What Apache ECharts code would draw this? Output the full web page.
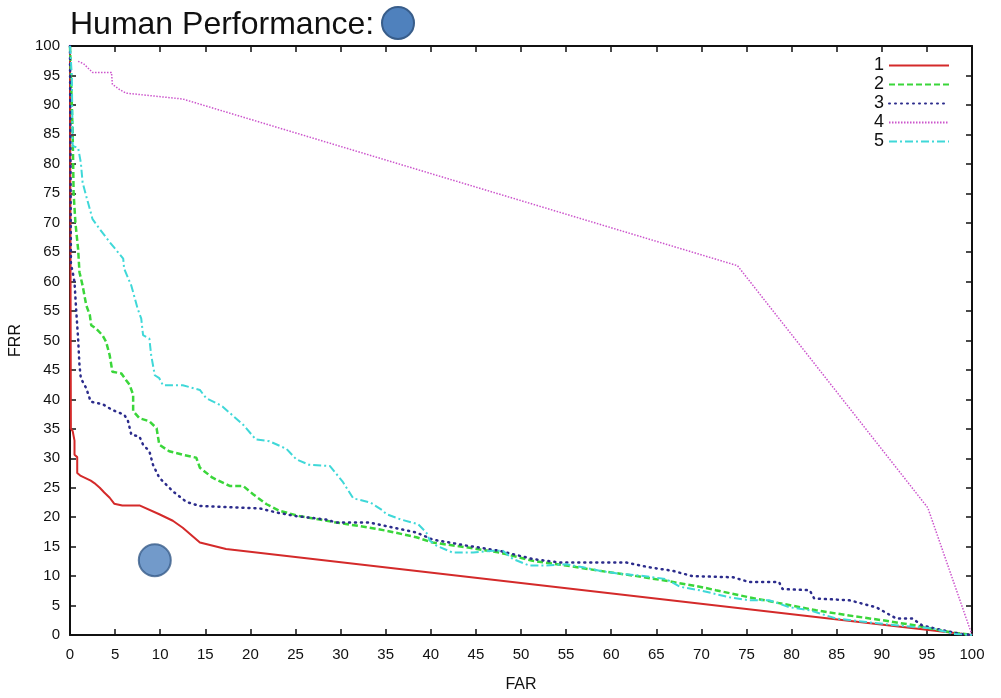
<!DOCTYPE html>
<html>
<head>
<meta charset="utf-8">
<script src="https://cdn.jsdelivr.net/npm/echarts@6/dist/echarts.min.js"></script>
<style>
  html, body { margin: 0; padding: 0; background: #fff; }
  #chart { width: 1001px; height: 698px; }
</style>
</head>
<body>
<div id="chart"></div>
<script>
// curves, [FAR, FRR]
const curve1 = [[0,100],[0.1,35],[0.3,34.6],[0.5,33],[0.5,30.6],[0.8,30.2],[0.8,27.5],[1.2,27.0],[2.3,26.2],[2.7,25.8],[3.3,25.0],[3.8,24.2],[4.4,23.3],[4.9,22.3],[5.8,22.0],[7.7,22.0],[9.9,20.5],[11.4,19.4],[12.5,18.2],[14.4,15.7],[17.3,14.6],[100,0]]
const curve2 = [[0,100],[0.3,85],[0.4,75],[0.6,70],[0.9,65.5],[1.05,61.6],[1.4,59.3],[1.8,56.0],[2.2,54.3],[2.35,52.6],[2.9,52.0],[3.6,50.9],[4.0,49.8],[4.4,47.5],[4.7,44.7],[5.7,44.4],[6.2,43.3],[6.6,42.5],[7.0,40.8],[7.0,38.0],[7.7,36.8],[8.8,36.3],[9.6,35.1],[9.9,32.3],[11.0,31.2],[12.5,30.6],[14.0,30.1],[14.4,28.4],[15.8,26.7],[17.7,25.3],[19.2,25.3],[20.3,23.9],[21.8,22.2],[23.2,21.1],[25.4,20.2],[27.7,19.6],[29.5,19.1],[32.1,18.5],[35.1,17.7],[38.4,16.6],[40.2,15.7],[43.9,14.9],[47.6,14.0],[51.3,12.6],[55.0,11.8],[58.7,10.9],[62.4,10.1],[66.1,9.2],[69.8,8.2],[71.6,7.6],[75.3,6.4],[79.0,5.3],[82.7,4.2],[86.4,3.3],[90.1,2.5],[93.8,1.6],[97.5,0.5],[100,0]]
const curve3 = [[0,100],[0.1,63],[0.3,61.6],[0.5,59.9],[0.7,54.8],[0.9,50.3],[1.05,45.8],[1.2,43.6],[1.8,41.9],[2.3,39.6],[3.6,39.2],[4.7,38.2],[6.0,37.4],[6.4,36.5],[6.8,34.0],[7.7,33.7],[8.1,32.3],[8.8,31.2],[9.2,28.9],[9.9,26.7],[11.4,24.4],[12.9,22.6],[14.4,21.9],[21.0,21.5],[22.9,20.8],[25.0,20.2],[28.4,19.6],[29.5,19.1],[33.2,19.1],[36.9,17.9],[38.4,17.4],[40.2,16.2],[43.9,15.2],[47.6,14.3],[51.3,12.9],[54.3,12.3],[61.7,12.3],[64.2,11.5],[66.8,10.9],[69.0,10.0],[73.5,9.8],[75.3,9.0],[78.6,9.0],[79.0,7.8],[82.0,7.6],[82.5,6.2],[86.4,5.9],[89.4,4.7],[91.6,2.8],[93.4,2.8],[94.5,1.6],[96.8,0.8],[98.6,0.2],[100,0]]
const curve4 = [[0.9,97.4],[1.5,97.0],[2.5,95.5],[4.6,95.5],[4.7,93.5],[5.5,92.6],[6.2,92.0],[12.5,91.0],[74.0,62.7],[95.1,21.6],[100,0]]
const curve5 = [[0,100],[0.2,95],[0.3,83],[0.9,82.7],[1.2,80.2],[1.4,76.8],[1.8,74.5],[2.2,72.3],[2.5,70.6],[3.3,68.9],[4.4,66.7],[5.9,63.9],[6.0,62.2],[6.8,59.3],[7.5,55.4],[7.9,53.7],[8.1,50.9],[8.8,50.3],[9.0,47.5],[9.4,44.1],[9.9,43.6],[10.3,42.4],[12.5,42.4],[14.4,41.6],[15.1,40.2],[16.2,39.4],[16.9,38.8],[19.2,35.7],[20.6,33.2],[22.1,32.9],[24.0,31.6],[25.1,29.8],[26.5,28.9],[28.8,28.7],[30.2,26.1],[31.4,23.2],[33.3,22.5],[34.6,21.2],[35.1,20.5],[36.7,19.6],[38.6,18.8],[39.5,17.4],[39.9,16.0],[40.6,15.2],[42.4,14.0],[44.7,14.0],[46.9,14.3],[48.0,14.3],[49.1,12.9],[50.9,11.8],[52.8,11.8],[55.0,12.0],[56.9,11.5],[58.7,10.9],[60.9,10.4],[63.1,10.1],[66.1,9.5],[67.6,8.2],[69.8,7.6],[73.1,6.4],[75.3,5.9],[77.5,5.9],[79.8,4.7],[82.0,4.2],[84.9,2.8],[88.3,2.2],[91.9,1.6],[95.7,1.1],[97.9,0.2],[100,0]]
const humanPerf = [[9.4, 12.7]]
const seriesNames = ['1', '2', '3', '4', '5']

const FONT = "'Liberation Sans', Arial, sans-serif"
const chart = echarts.init(document.getElementById('chart'), null, { renderer: 'canvas' })

const tickAxis = (extra) => Object.assign({
  type: 'value',
  min: 0,
  max: 100,
  interval: 5,
  axisLine: { show: true, onZero: false, lineStyle: { color: '#111', width: 2 } },
  axisTick: { show: true, inside: true, length: 6, lineStyle: { color: '#111', width: 1.5 } },
  splitLine: { show: false },
}, extra)

const lineSeries = (name, data, color, width, type, cap) => ({
  name,
  type: 'line',
  data,
  symbol: 'none',
  showSymbol: false,
  animation: false,
  lineStyle: { color, width, type, cap: cap || 'butt' },
  itemStyle: { color },
})

chart.setOption({
  backgroundColor: '#fff',
  animation: false,
  title: {
    text: 'Human Performance:',
    left: 65,
    top: 4,
    textStyle: { fontFamily: FONT, fontSize: 32, fontWeight: 'normal', color: '#111' },
  },
  graphic: [{
    type: 'circle',
    shape: { cx: 398, cy: 23, r: 16 },
    style: { fill: '#4f81bd', stroke: '#385d8a', lineWidth: 2 },
  }],
  grid: { left: 70, right: 29, top: 46, bottom: 60, containLabel: false },
  legend: {
    data: seriesNames,
    orient: 'vertical',
    right: 46,
    top: 51,
    align: 'right',
    itemWidth: 60,
    itemHeight: 10,
    itemGap: 0,
    itemStyle: { opacity: 0 },
    textStyle: { fontFamily: FONT, fontSize: 18, lineHeight: 19, color: '#111' },
  },
  xAxis: [
    tickAxis({
      position: 'bottom',
      name: 'FAR',
      nameLocation: 'middle',
      nameGap: 42,
      nameTextStyle: { fontFamily: FONT, fontSize: 16, color: '#111' },
      axisLabel: { fontFamily: FONT, fontSize: 15, color: '#111', margin: 12 },
    }),
    tickAxis({ position: 'top', axisLabel: { show: false } }),
  ],
  yAxis: [
    tickAxis({
      position: 'left',
      name: 'FRR',
      nameLocation: 'middle',
      nameGap: 41,
      nameRotate: 90,
      nameTextStyle: { fontFamily: FONT, fontSize: 16, color: '#111' },
      axisLabel: { fontFamily: FONT, fontSize: 15, color: '#111', margin: 10 },
    }),
    tickAxis({ position: 'right', axisLabel: { show: false } }),
  ],
  series: [
    lineSeries('1', curve1, '#d42a2a', 2, 'solid'),
    lineSeries('2', curve2, '#3ad63a', 2.5, [6, 3]),
    lineSeries('3', curve3, '#2c2c8c', 2.5, [1, 5], 'round'),
    lineSeries('4', curve4, '#cc55cc', 1.5, [1.5, 1.5]),
    lineSeries('5', curve5, '#3fd8d8', 2, [8, 3, 2, 3]),
    {
      name: 'human',
      type: 'scatter',
      data: humanPerf,
      symbol: 'circle',
      symbolSize: 32,
      animation: false,
      itemStyle: { color: '#4f81bd', borderColor: '#385d8a', borderWidth: 2 },
      z: 5,
    },
  ],
})

window.addEventListener('resize', () => chart.resize())
</script>
</body>
</html>
